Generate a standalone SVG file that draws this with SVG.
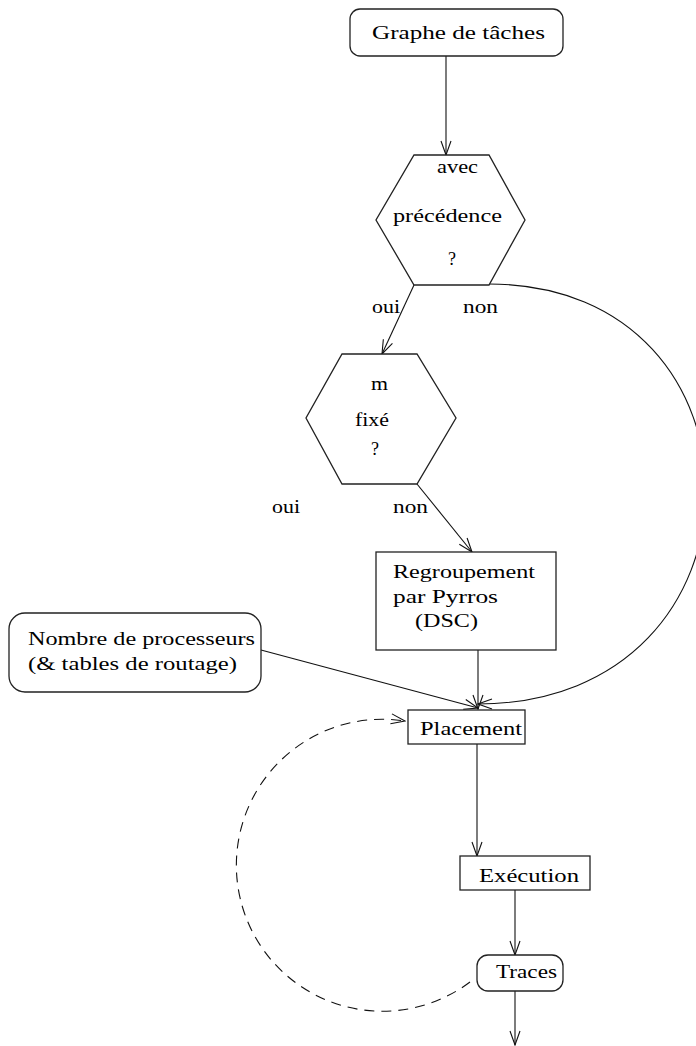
<svg xmlns="http://www.w3.org/2000/svg" width="696" height="1046" viewBox="0 0 696 1046">
<style>
.n{fill:#fff;stroke:#222;stroke-width:1.3}
.t{font-family:"Liberation Serif","DejaVu Serif",serif;font-size:18px;fill:#000}
.c{fill:none;stroke:#111;stroke-width:1.1}
.d{stroke-dasharray:10 7}
</style>
<defs>
<marker id="a" markerWidth="16" markerHeight="12" refX="15" refY="6" orient="auto" markerUnits="userSpaceOnUse">
<path d="M1,1 L15,6 L1,11" fill="none" stroke="#111" stroke-width="1.1"/>
</marker>
</defs>
<rect width="696" height="1046" fill="#fff"/>
<g id="connectors">
<path class="c" d="M446,56 L446,155" marker-end="url(#a)"/>
<path class="c" d="M414,285 L382,354" marker-end="url(#a)"/>
<path class="c" d="M489,284 C780,284 780,703 478,704" marker-end="url(#a)"/>
<path class="c" d="M417,484 L472,552" marker-end="url(#a)"/>
<path class="c" d="M478,650 L478,709" marker-end="url(#a)"/>
<path class="c" d="M261,650 L478,708" marker-end="url(#a)"/>
<path class="c" d="M477,744 L477,856" marker-end="url(#a)"/>
<path class="c" d="M515,890 L515,955" marker-end="url(#a)"/>
<path class="c" d="M515,991 L515,1045" marker-end="url(#a)"/>
<path class="c d" d="M470,982 A146,146 0 1 1 405,721" marker-end="url(#a)"/>
</g>
<g id="graphe">
<rect class="n" x="350" y="9" width="213" height="47" rx="10"/>
<text class="t" x="372" y="39" textLength="173" lengthAdjust="spacingAndGlyphs">Graphe de tâches</text>
</g>
<g id="precedence">
<polygon class="n" points="414,155 489,155 525,220 489,285 414,285 376,220"/>
<text class="t" x="437" y="173" textLength="41" lengthAdjust="spacingAndGlyphs">avec</text>
<text class="t" x="393" y="222" textLength="109" lengthAdjust="spacingAndGlyphs">précédence</text>
<text class="t" x="448" y="265">?</text>
</g>
<g id="labels1">
<text class="t" x="372" y="313" textLength="28" lengthAdjust="spacingAndGlyphs">oui</text>
<text class="t" x="463" y="313" textLength="35" lengthAdjust="spacingAndGlyphs">non</text>
</g>
<g id="mfixe">
<polygon class="n" points="342,354 417,354 456,418 417,484 342,484 306,418"/>
<text class="t" x="371" y="390" textLength="17" lengthAdjust="spacingAndGlyphs">m</text>
<text class="t" x="355" y="426" textLength="34" lengthAdjust="spacingAndGlyphs">fixé</text>
<text class="t" x="371" y="455">?</text>
</g>
<g id="labels2">
<text class="t" x="272" y="513" textLength="28" lengthAdjust="spacingAndGlyphs">oui</text>
<text class="t" x="393" y="513" textLength="35" lengthAdjust="spacingAndGlyphs">non</text>
</g>
<g id="regroupement">
<rect class="n" x="376" y="552" width="180" height="98"/>
<text class="t" x="393" y="578" textLength="142" lengthAdjust="spacingAndGlyphs">Regroupement</text>
<text class="t" x="393" y="603" textLength="105" lengthAdjust="spacingAndGlyphs">par Pyrros</text>
<text class="t" x="415" y="627" textLength="63" lengthAdjust="spacingAndGlyphs">(DSC)</text>
</g>
<g id="nombre">
<rect class="n" x="9" y="613" width="252" height="79" rx="16"/>
<text class="t" x="28" y="645" textLength="227" lengthAdjust="spacingAndGlyphs">Nombre de processeurs</text>
<text class="t" x="28" y="670" textLength="209" lengthAdjust="spacingAndGlyphs">(&amp; tables de routage)</text>
</g>
<g id="placement">
<rect class="n" x="408" y="710" width="117" height="34"/>
<text class="t" x="420" y="735" textLength="102" lengthAdjust="spacingAndGlyphs">Placement</text>
</g>
<g id="execution">
<rect class="n" x="460" y="856" width="130" height="34"/>
<text class="t" x="479" y="882" textLength="100" lengthAdjust="spacingAndGlyphs">Exécution</text>
</g>
<g id="traces">
<rect class="n" x="477" y="955" width="86" height="36" rx="11"/>
<text class="t" x="496" y="978" textLength="61" lengthAdjust="spacingAndGlyphs">Traces</text>
</g>
</svg>
